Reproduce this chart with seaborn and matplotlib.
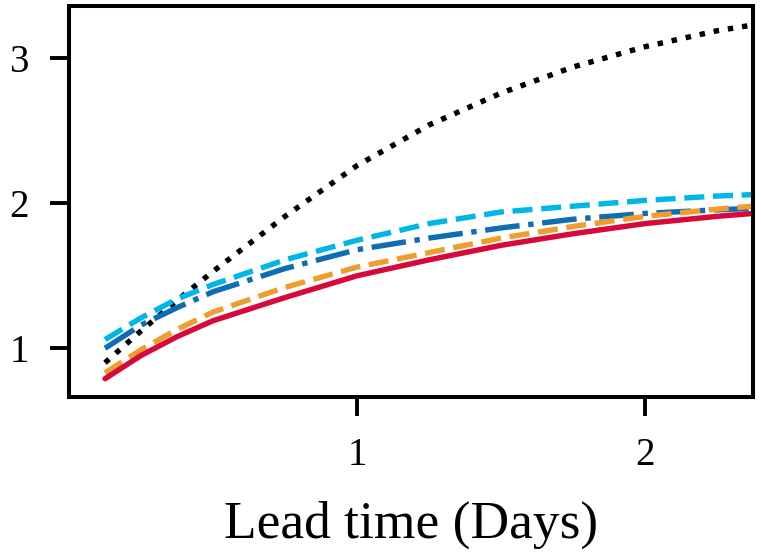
import numpy as np
import pandas as pd
import seaborn as sns
import matplotlib.pyplot as plt

# lead times in days
lead = [0.125, 0.25, 0.375, 0.5, 0.75, 1.0, 1.25, 1.5, 1.75, 2.0, 2.25, 2.375]

persistence = [0.90, 1.12, 1.33, 1.53, 1.91, 2.26, 2.54, 2.76, 2.94, 3.08, 3.19, 3.23]
model_a = [1.06, 1.21, 1.34, 1.44, 1.61, 1.745, 1.86, 1.94, 1.98, 2.02, 2.05, 2.06]
model_b = [1.00, 1.16, 1.28, 1.39, 1.55, 1.68, 1.76, 1.83, 1.89, 1.93, 1.955, 1.965]
model_c = [0.83, 0.99, 1.13, 1.25, 1.42, 1.56, 1.66, 1.76, 1.84, 1.91, 1.96, 1.98]
model_d = [0.79, 0.95, 1.08, 1.19, 1.35, 1.50, 1.61, 1.71, 1.79, 1.86, 1.91, 1.93]

names = ["Persistence", "Model A", "Model B", "Model C", "Model D"]
series = [persistence, model_a, model_b, model_c, model_d]

df = pd.concat([pd.DataFrame({"lead": lead, "value": s, "model": n})
                for n, s in zip(names, series)], ignore_index=True)

palette = {"Persistence": "black", "Model A": "#00B6E6", "Model B": "#0E6DB3",
           "Model C": "#EF9E2E", "Model D": "#D8093A"}
dashes = {"Persistence": (1, 1.65), "Model A": (3.7, 1.6), "Model B": (6.4, 1.6, 1, 1.6),
          "Model C": (3.7, 1.6), "Model D": ""}

sns.set_style("ticks")
plt.rcParams['font.family'] = ['Liberation Serif', 'DejaVu Serif']
plt.rcParams['text.color'] = 'black'
plt.rcParams['axes.labelcolor'] = 'black'
plt.rcParams['xtick.color'] = 'black'
plt.rcParams['ytick.color'] = 'black'

fig = plt.figure(figsize=(7.61, 5.55), dpi=100)
ax = fig.add_axes([0.0907, 0.2847, 0.8988, 0.7043])

sns.lineplot(data=df, x="lead", y="value", hue="model", style="model",
             palette=palette, dashes=dashes, hue_order=names, style_order=names,
             linewidth=3.9, legend=False, ax=ax)

ax.set_xlim(0, 2.375)
ax.set_ylim(0.664, 3.36)
ax.set_xticks([1, 2])
ax.set_yticks([1, 2, 3])
ax.set_xticklabels(["1", "2"])
ax.set_yticklabels(["1", "2", "3"])
ax.set_xlabel("Lead time (Days)", fontsize=38.5, labelpad=19)
ax.set_ylabel("")
ax.tick_params(axis="both", length=14, width=2.8, labelsize=28, color="black", labelcolor="black")
ax.tick_params(axis="x", pad=15)
ax.tick_params(axis="y", pad=15)
for sp in ax.spines.values():
    sp.set_linewidth(2.9)
    sp.set_color("black")

fig.savefig("out.png", dpi=100)
